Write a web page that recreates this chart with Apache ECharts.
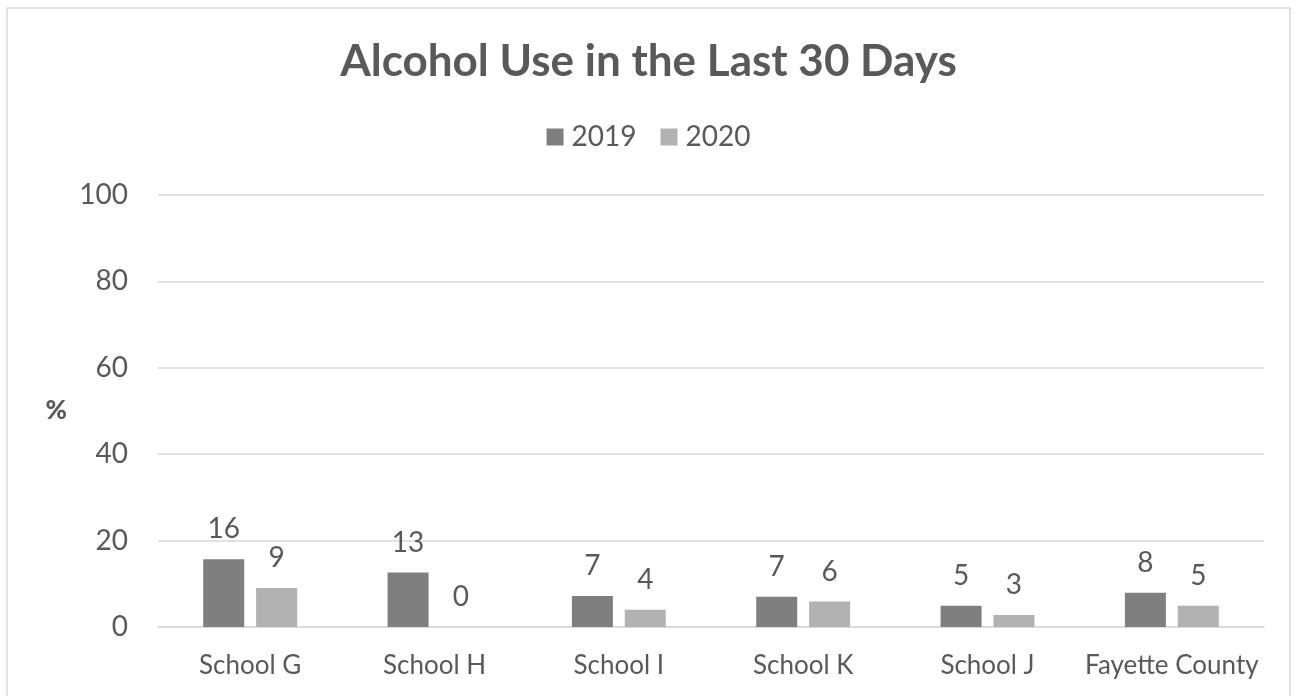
<!DOCTYPE html>
<html>
<head>
<meta charset="utf-8">
<script src="https://cdn.jsdelivr.net/npm/echarts@6/dist/echarts.min.js"></script>
<style>
  html, body { margin: 0; padding: 0; background: #fff; }
  #chart { width: 1297px; height: 696px; }
</style>
</head>
<body>
<div id="chart"></div>
<script>
  var schools = ['School G', 'School H', 'School I', 'School K', 'School J', 'Fayette County']
  var years = ['2019', '2020']
  var values2019 = [15.7, 12.6, 7.2, 7.0, 4.9, 7.9]
  var values2020 = [9.0, 0, 4.0, 5.9, 2.8, 4.9]
  var yTicks = { min: 0, max: 100, interval: 20 }

  var textColor = '#595959'
  var fontName = 'Lato'

  var chart = echarts.init(document.getElementById('chart'))

  function barSeries(name, data, color) {
    return {
      name: name,
      type: 'bar',
      data: data,
      barWidth: 41,
      barGap: '29%',
      itemStyle: { color: color },
      label: {
        show: true,
        position: 'top',
        distance: 16,
        color: textColor,
        fontFamily: fontName,
        fontSize: 28,
        formatter: function (p) { return Math.round(p.value) }
      }
    }
  }

  chart.setOption({
    backgroundColor: '#fff',
    animation: false,
    graphic: [{
      type: 'rect',
      shape: { x: 7, y: 8, width: 1283, height: 700 },
      style: { fill: 'none', stroke: '#d9d9d9', lineWidth: 1.5 },
      silent: true
    }],
    title: {
      text: 'Alcohol Use in the Last 30 Days',
      left: 'center',
      top: 35,
      textStyle: {
        color: textColor,
        fontFamily: fontName,
        fontWeight: 'bold',
        fontSize: 44
      }
    },
    legend: {
      data: years,
      top: 118,
      left: 'center',
      itemWidth: 17,
      itemHeight: 17,
      itemGap: 24,
      icon: 'rect',
      textStyle: { color: textColor, fontFamily: fontName, fontSize: 28, padding: [0, 0, 0, 3] }
    },
    grid: { left: 158, right: 33, top: 195, bottom: 69, containLabel: false },
    xAxis: {
      type: 'category',
      data: schools,
      axisLine: { lineStyle: { color: '#d9d9d9', width: 1.5 } },
      axisTick: { show: false },
      axisLabel: { interval: 0, color: textColor, fontFamily: fontName, fontSize: 26, margin: 26 }
    },
    yAxis: {
      type: 'value',
      min: yTicks.min,
      max: yTicks.max,
      interval: yTicks.interval,
      name: '%',
      nameLocation: 'middle',
      nameRotate: 0,
      nameGap: 91,
      nameTextStyle: { color: textColor, fontFamily: fontName, fontWeight: 900, fontSize: 26 },
      axisLine: { show: false },
      axisTick: { show: false },
      splitLine: { lineStyle: { color: '#d9d9d9', width: 1.5 } },
      axisLabel: { color: textColor, fontFamily: fontName, fontSize: 28, margin: 30 }
    },
    series: [
      barSeries(years[0], values2019, '#7f7f7f'),
      barSeries(years[1], values2020, '#b2b2b2')
    ]
  })
</script>
</body>
</html>
